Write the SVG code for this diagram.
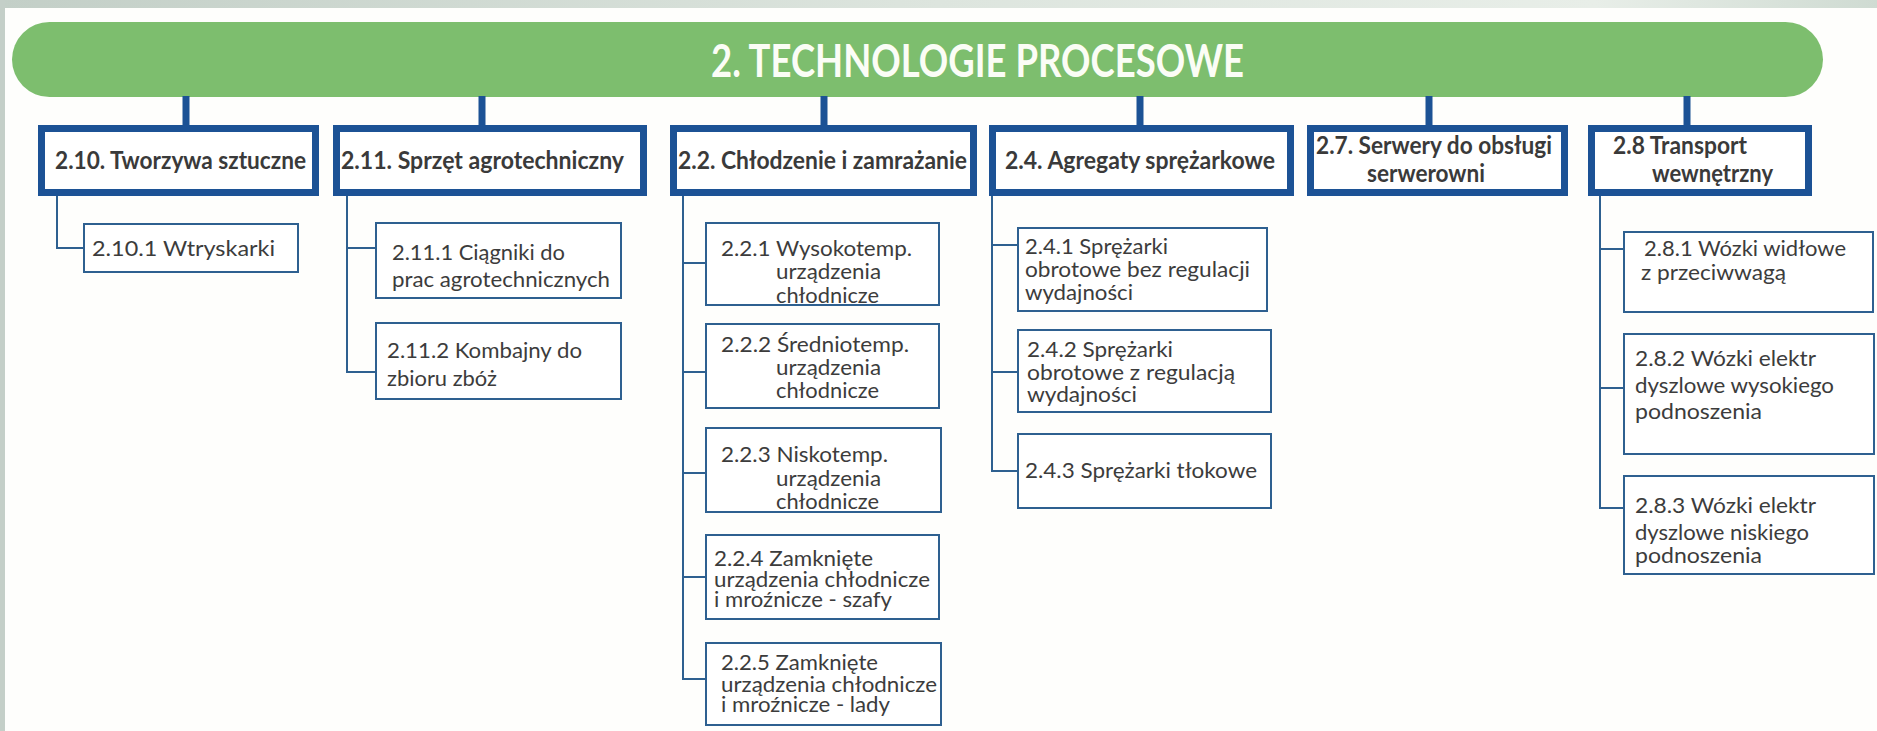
<svg xmlns="http://www.w3.org/2000/svg" width="1877" height="731" viewBox="0 0 1877 731">
<defs>
<linearGradient id="topStrip" x1="0" y1="0" x2="1" y2="0">
<stop offset="0" stop-color="#c3cfc7"/>
<stop offset="0.5" stop-color="#dde5de"/>
<stop offset="0.85" stop-color="#e8eee8"/>
<stop offset="1" stop-color="#cfdbd2"/>
</linearGradient>
</defs>
<style>
.l1 { fill:#ffffff; stroke:#1c5295; stroke-width:7; }
.l2 { fill:#ffffff; stroke:#2e6090; stroke-width:2; }
.stub { stroke:#1c5295; stroke-width:7; fill:none; }
.conn { stroke:#2e6090; stroke-width:2; fill:none; }
.t1 { font-family:Lato, "Open Sans", "Liberation Sans", sans-serif; font-weight:700; font-size:24px; fill:#3a3a3a; }
.t2 { font-family:Lato, "Open Sans", "Liberation Sans", sans-serif; font-weight:400; font-size:21px; fill:#3c3c3c; }
.title { font-family:Lato, "Open Sans", "Liberation Sans", sans-serif; font-weight:700; font-size:46px; fill:#fbfdf6; }
</style>
<rect x="0" y="0" width="1877" height="731" fill="#fefefc"/>
<rect x="0" y="0" width="1877" height="8" fill="url(#topStrip)"/>
<rect x="0" y="0" width="5" height="731" fill="#c4cfc8"/>

<g id="root">
<rect x="12" y="22" width="1811" height="75" rx="37.5" fill="#7dbe6e"/>
<text class="title" x="711" y="77" textLength="533" lengthAdjust="spacingAndGlyphs">2. TECHNOLOGIE PROCESOWE</text>
</g>

<g id="connectors">
<line class="stub" x1="186" y1="96" x2="186" y2="126"/>
<line class="stub" x1="482" y1="96" x2="482" y2="126"/>
<line class="stub" x1="824" y1="96" x2="824" y2="126"/>
<line class="stub" x1="1140" y1="96" x2="1140" y2="126"/>
<line class="stub" x1="1429" y1="96" x2="1429" y2="126"/>
<line class="stub" x1="1687" y1="96" x2="1687" y2="126"/>
<path class="conn" d="M57 196 V248 H83"/>
<path class="conn" d="M347 196 V372 H375 M347 248 H375"/>
<path class="conn" d="M683 196 V679 H705 M683 263 H705 M683 372 H705 M683 473 H705 M683 577 H705"/>
<path class="conn" d="M992 196 V471 H1017 M992 245 H1017 M992 372 H1017"/>
<path class="conn" d="M1600 196 V508 H1623 M1600 249 H1623 M1600 388 H1623"/>
</g>

<g id="n2_10">
<rect class="l1" x="41.5" y="128.5" width="274" height="64"/>
<text class="t1" x="55" y="169" textLength="251" lengthAdjust="spacingAndGlyphs">2.10. Tworzywa sztuczne</text>
</g>
<g id="n2_11">
<rect class="l1" x="336.5" y="128.5" width="307" height="64"/>
<text class="t1" x="341" y="169" textLength="283" lengthAdjust="spacingAndGlyphs">2.11. Sprzęt agrotechniczny</text>
</g>
<g id="n2_2">
<rect class="l1" x="673.5" y="128.5" width="300" height="64"/>
<text class="t1" x="678" y="169" textLength="289" lengthAdjust="spacingAndGlyphs">2.2. Chłodzenie i zamrażanie</text>
</g>
<g id="n2_4">
<rect class="l1" x="992.5" y="128.5" width="298" height="64"/>
<text class="t1" x="1005" y="169" textLength="270" lengthAdjust="spacingAndGlyphs">2.4. Agregaty sprężarkowe</text>
</g>
<g id="n2_7">
<rect class="l1" x="1310.5" y="128.5" width="254" height="64"/>
<text class="t1" x="1316" y="154" textLength="236" lengthAdjust="spacingAndGlyphs">2.7. Serwery do obsługi</text>
<text class="t1" x="1367" y="182" textLength="118" lengthAdjust="spacingAndGlyphs">serwerowni</text>
</g>
<g id="n2_8">
<rect class="l1" x="1591.5" y="128.5" width="217" height="64"/>
<text class="t1" x="1613" y="154" textLength="134" lengthAdjust="spacingAndGlyphs">2.8 Transport</text>
<text class="t1" x="1652" y="182" textLength="121" lengthAdjust="spacingAndGlyphs">wewnętrzny</text>
</g>

<g id="n2_10_1">
<rect class="l2" x="84" y="224" width="214" height="48"/>
<text class="t2" x="92" y="256" textLength="183" lengthAdjust="spacingAndGlyphs">2.10.1 Wtryskarki</text>
</g>
<g id="n2_11_1">
<rect class="l2" x="376" y="223" width="245" height="75"/>
<text class="t2" x="392" y="260" textLength="173" lengthAdjust="spacingAndGlyphs">2.11.1 Ciągniki do</text>
<text class="t2" x="392" y="287" textLength="218" lengthAdjust="spacingAndGlyphs">prac agrotechnicznych</text>
</g>
<g id="n2_11_2">
<rect class="l2" x="376" y="323" width="245" height="76"/>
<text class="t2" x="387" y="358" textLength="195" lengthAdjust="spacingAndGlyphs">2.11.2 Kombajny do</text>
<text class="t2" x="387" y="386" textLength="110" lengthAdjust="spacingAndGlyphs">zbioru zbóż</text>
</g>

<g id="n2_2_1">
<rect class="l2" x="706" y="223" width="233" height="82"/>
<text class="t2" x="721" y="256" textLength="191" lengthAdjust="spacingAndGlyphs">2.2.1 Wysokotemp.</text>
<text class="t2" x="776" y="279" textLength="105" lengthAdjust="spacingAndGlyphs">urządzenia</text>
<text class="t2" x="776" y="303" textLength="103" lengthAdjust="spacingAndGlyphs">chłodnicze</text>
</g>
<g id="n2_2_2">
<rect class="l2" x="706" y="324" width="233" height="84"/>
<text class="t2" x="721" y="352" textLength="188" lengthAdjust="spacingAndGlyphs">2.2.2 Średniotemp.</text>
<text class="t2" x="776" y="375" textLength="105" lengthAdjust="spacingAndGlyphs">urządzenia</text>
<text class="t2" x="776" y="398" textLength="103" lengthAdjust="spacingAndGlyphs">chłodnicze</text>
</g>
<g id="n2_2_3">
<rect class="l2" x="706" y="428" width="235" height="84"/>
<text class="t2" x="721" y="462" textLength="167" lengthAdjust="spacingAndGlyphs">2.2.3 Niskotemp.</text>
<text class="t2" x="776" y="486" textLength="105" lengthAdjust="spacingAndGlyphs">urządzenia</text>
<text class="t2" x="776" y="509" textLength="103" lengthAdjust="spacingAndGlyphs">chłodnicze</text>
</g>
<g id="n2_2_4">
<rect class="l2" x="706" y="535" width="233" height="84"/>
<text class="t2" x="714" y="566" textLength="159" lengthAdjust="spacingAndGlyphs">2.2.4 Zamknięte</text>
<text class="t2" x="714" y="587" textLength="216" lengthAdjust="spacingAndGlyphs">urządzenia chłodnicze</text>
<text class="t2" x="714" y="607" textLength="178" lengthAdjust="spacingAndGlyphs">i mroźnicze - szafy</text>
</g>
<g id="n2_2_5">
<rect class="l2" x="706" y="643" width="235" height="82"/>
<text class="t2" x="721" y="670" textLength="157" lengthAdjust="spacingAndGlyphs">2.2.5 Zamknięte</text>
<text class="t2" x="721" y="692" textLength="216" lengthAdjust="spacingAndGlyphs">urządzenia chłodnicze</text>
<text class="t2" x="721" y="712" textLength="169" lengthAdjust="spacingAndGlyphs">i mroźnicze - lady</text>
</g>

<g id="n2_4_1">
<rect class="l2" x="1018" y="228" width="249" height="83"/>
<text class="t2" x="1025" y="254" textLength="143" lengthAdjust="spacingAndGlyphs">2.4.1 Sprężarki</text>
<text class="t2" x="1025" y="277" textLength="225" lengthAdjust="spacingAndGlyphs">obrotowe bez regulacji</text>
<text class="t2" x="1025" y="300" textLength="108" lengthAdjust="spacingAndGlyphs">wydajności</text>
</g>
<g id="n2_4_2">
<rect class="l2" x="1018" y="330" width="253" height="82"/>
<text class="t2" x="1027" y="357" textLength="146" lengthAdjust="spacingAndGlyphs">2.4.2 Sprężarki</text>
<text class="t2" x="1027" y="380" textLength="208" lengthAdjust="spacingAndGlyphs">obrotowe z regulacją</text>
<text class="t2" x="1027" y="402" textLength="110" lengthAdjust="spacingAndGlyphs">wydajności</text>
</g>
<g id="n2_4_3">
<rect class="l2" x="1018" y="434" width="253" height="74"/>
<text class="t2" x="1025" y="478" textLength="232" lengthAdjust="spacingAndGlyphs">2.4.3 Sprężarki tłokowe</text>
</g>

<g id="n2_8_1">
<rect class="l2" x="1624" y="232" width="249" height="80"/>
<text class="t2" x="1644" y="256" textLength="202" lengthAdjust="spacingAndGlyphs">2.8.1 Wózki widłowe</text>
<text class="t2" x="1641" y="280" textLength="145" lengthAdjust="spacingAndGlyphs">z przeciwwagą</text>
</g>
<g id="n2_8_2">
<rect class="l2" x="1624" y="334" width="250" height="120"/>
<text class="t2" x="1635" y="366" textLength="181" lengthAdjust="spacingAndGlyphs">2.8.2 Wózki elektr</text>
<text class="t2" x="1635" y="393" textLength="199" lengthAdjust="spacingAndGlyphs">dyszlowe wysokiego</text>
<text class="t2" x="1635" y="419" textLength="127" lengthAdjust="spacingAndGlyphs">podnoszenia</text>
</g>
<g id="n2_8_3">
<rect class="l2" x="1624" y="476" width="250" height="98"/>
<text class="t2" x="1635" y="513" textLength="181" lengthAdjust="spacingAndGlyphs">2.8.3 Wózki elektr</text>
<text class="t2" x="1635" y="540" textLength="174" lengthAdjust="spacingAndGlyphs">dyszlowe niskiego</text>
<text class="t2" x="1635" y="563" textLength="127" lengthAdjust="spacingAndGlyphs">podnoszenia</text>
</g>
</svg>
